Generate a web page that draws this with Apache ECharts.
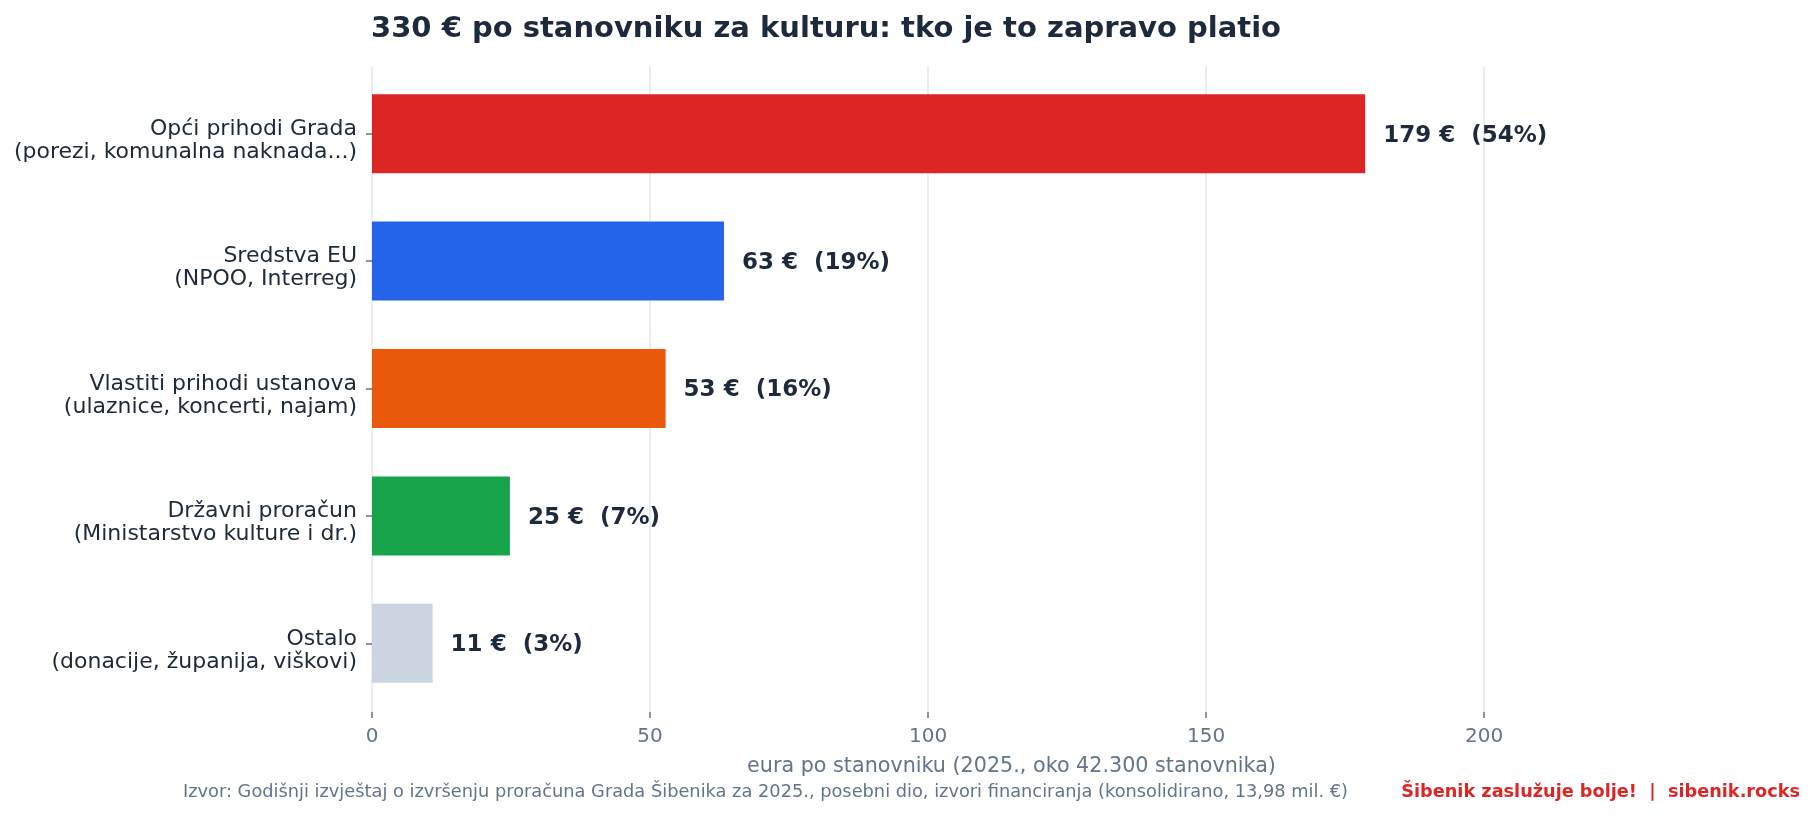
<!DOCTYPE html>
<html>
<head>
    <meta charset="UTF-8">
    <title>Kultura po stanovniku</title>
    <script type="text/javascript" src="https://cdn.jsdelivr.net/npm/echarts@6/dist/echarts.min.js"></script>
    <style>
        html, body { margin: 0; padding: 0; background: #ffffff; }
        #myChart { width: 1814px; height: 816px; }
    </style>
</head>
<body>
    <div id="myChart"></div>

<script>
// podaci
var categories = [
    'Opći prihodi Grada\n(porezi, komunalna naknada...)',
    'Sredstva EU\n(NPOO, Interreg)',
    'Vlastiti prihodi ustanova\n(ulaznice, koncerti, najam)',
    'Državni proračun\n(Ministarstvo kulture i dr.)',
    'Ostalo\n(donacije, županija, viškovi)'
];
var values = [178.6, 63.3, 52.8, 24.8, 10.9];
var shares = [54, 19, 16, 7, 3];
var barColors = ['#dc2626', '#2563eb', '#ea580c', '#16a34a', '#cbd5e1'];
var xTicks = [0, 50, 100, 150, 200];

var FONT = 'DejaVu Sans';
var X_MAX = 230;
var chart_myChart = echarts.init(document.getElementById('myChart'), null, {renderer: 'canvas'});

var barData = [];
for (var i = 0; i < values.length; i++) {
    barData.push({value: values[i], itemStyle: {color: barColors[i]}});
}

var option = {
    animation: false,
    textStyle: {fontFamily: FONT},
    title: {
        text: '330 € po stanovniku za kulturu: tko je to zapravo platio',
        left: 371,
        top: 15,
        padding: 0,
        textStyle: {
            fontFamily: FONT,
            fontSize: 29,
            fontWeight: 'bold',
            color: '#1e293b'
        }
    },
    grid: [
        // stupci
        {left: 372, right: 163, top: 70, bottom: 109},
        // mreža i x os (malo viša, kao u matplotlibu)
        {left: 372, right: 163, top: 66, bottom: 104},
        // nazivi kategorija, malo niže od crtica
        {left: 372, right: 163, top: 77, bottom: 102}
    ],
    xAxis: [
        {
            type: 'value',
            gridIndex: 0,
            min: 0,
            max: X_MAX,
            show: false,
            splitLine: {show: false}
        },
        {
            type: 'value',
            gridIndex: 1,
            min: 0,
            max: X_MAX,
            interval: 50,
            name: 'eura po stanovniku (2025., oko 42.300 stanovnika)',
            nameLocation: 'middle',
            nameGap: 44,
            nameTextStyle: {fontFamily: FONT, fontSize: 20.7, color: '#64748b'},
            axisLine: {show: false},
            axisTick: {
                show: true,
                length: 6,
                customValues: xTicks,
                lineStyle: {color: '#64748b', width: 1.5}
            },
            axisLabel: {
                margin: 15,
                customValues: xTicks,
                fontFamily: FONT,
                fontSize: 20,
                color: '#64748b'
            },
            splitLine: {
                show: true,
                lineStyle: {color: '#e5e7eb', width: 1.5}
            }
        },
        {
            type: 'value',
            gridIndex: 2,
            min: 0,
            max: X_MAX,
            show: false,
            splitLine: {show: false}
        }
    ],
    yAxis: [
        {
            type: 'category',
            gridIndex: 0,
            inverse: true,
            data: categories,
            axisLine: {show: false},
            axisTick: {
                show: true,
                length: 6,
                alignWithLabel: true,
                lineStyle: {color: '#64748b', width: 1.5}
            },
            axisLabel: {show: false},
            splitLine: {show: false}
        },
        {
            type: 'value',
            gridIndex: 1,
            show: false,
            splitLine: {show: false}
        },
        {
            type: 'category',
            gridIndex: 2,
            inverse: true,
            data: categories,
            axisLine: {show: false},
            axisTick: {show: false},
            axisLabel: {
                margin: 15,
                fontFamily: FONT,
                fontSize: 22,
                lineHeight: 23,
                color: '#1e293b',
                align: 'right'
            },
            splitLine: {show: false}
        }
    ],
    series: [{
        type: 'bar',
        xAxisIndex: 0,
        yAxisIndex: 0,
        barWidth: 79,
        data: barData,
        label: {
            show: true,
            position: 'right',
            distance: 18,
            offset: [0, 2],
            fontFamily: FONT,
            fontSize: 23,
            fontWeight: 'bold',
            color: '#1e293b',
            formatter: function (p) {
                return Math.round(values[p.dataIndex]) + ' €  (' + shares[p.dataIndex] + '%)';
            }
        }
    }],
    graphic: [
        {
            type: 'text',
            left: 183,
            top: 783,
            style: {
                text: 'Izvor: Godišnji izvještaj o izvršenju proračuna Grada Šibenika za 2025., posebni dio, izvori financiranja (konsolidirano, 13,98 mil. €)',
                font: '17.8px "DejaVu Sans"',
                fill: '#64748b'
            }
        },
        {
            type: 'text',
            right: 14,
            top: 783,
            style: {
                text: 'Šibenik zaslužuje bolje!  |  sibenik.rocks',
                font: 'bold 17.7px "DejaVu Sans"',
                fill: '#dc2626'
            }
        }
    ]
};

chart_myChart.setOption(option);
</script>
</body>
</html>
